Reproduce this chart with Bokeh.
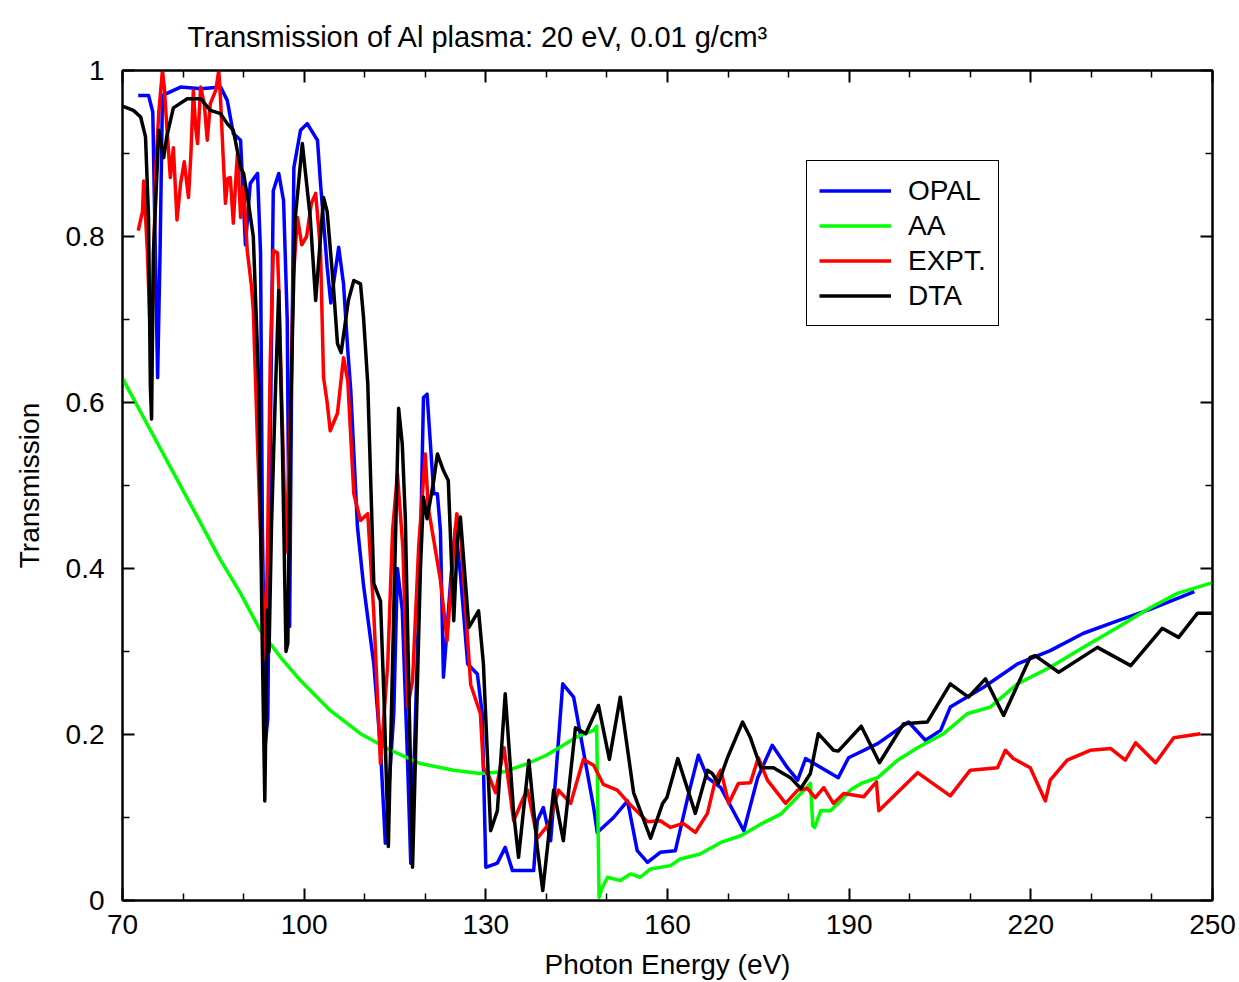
from bokeh.plotting import figure
from bokeh.models import (Range1d, LinearAxis, FixedTicker, Legend, LegendItem,
                          Title, CustomJSTickFormatter)
from bokeh.embed import file_html
from bokeh.resources import INLINE

# ---------------- data ----------------
title_text = "Transmission of Al plasma: 20 eV, 0.01 g/cm\u00b3"
x_ticks = [70, 100, 130, 160, 190, 220, 250]
x_minor = [80, 90, 110, 120, 140, 150, 170, 180, 200, 210, 230, 240]
y_ticks = [0, 0.2, 0.4, 0.6, 0.8, 1]
y_minor = [0.1, 0.3, 0.5, 0.7, 0.9]
y_tick_labels = {0: "0", 0.2: "0.2", 0.4: "0.4", 0.6: "0.6", 0.8: "0.8", 1: "1"}

opal_e = [72.6, 74.3, 75.0, 75.5, 75.8, 76.2, 76.6, 79.6, 83, 86.2, 87.3, 88.3, 89.5, 90.3, 91.1,
          92.3, 92.8, 93.1, 93.6, 94.0, 94.4, 94.9, 95.8, 96.6, 97.2, 97.6, 97.9, 98.3, 99.4,
          100.5, 102.2, 102.7, 103.8, 104.4, 105.7, 106.5, 107.2, 107.7, 108.8, 109.8, 111.5,
          112.6, 113.4, 114.8, 115.4, 116.2, 117, 117.6, 118.3, 119.2, 119.7, 120.3, 121.4, 122,
          122.5, 123, 124.2, 125, 125.8, 127, 128.6, 129.4, 130, 131.9, 133.2, 134.4, 137.9,
          138.5, 139.5, 140.7, 141.5, 142.7, 144.5, 147.8, 148.4, 151.1, 153.4, 155, 156.7,
          158.8, 161.3, 163.5, 165.1, 166.6, 168.8, 172.6, 174.9, 177.3, 179.8, 181.5, 182.8,
          188.2, 189.9, 194.7, 199.8, 202.6, 205.1, 206.7, 212.2, 217.8, 223.2, 228.7, 234.3,
          239.8, 247]
opal_t = [0.97, 0.97, 0.95, 0.75, 0.63, 0.78, 0.97, 0.98, 0.978, 0.98, 0.964, 0.924, 0.916, 0.79,
          0.864, 0.876, 0.78, 0.45, 0.19, 0.22, 0.55, 0.855, 0.876, 0.843, 0.70, 0.33, 0.6, 0.883,
          0.928, 0.936, 0.916, 0.864, 0.763, 0.72, 0.787, 0.743, 0.663, 0.614, 0.45, 0.38, 0.285,
          0.184, 0.069, 0.225, 0.4, 0.35, 0.184, 0.045, 0.2, 0.425, 0.606, 0.61, 0.49, 0.49,
          0.446, 0.269, 0.386, 0.45, 0.393, 0.285, 0.273, 0.225, 0.04, 0.045, 0.064, 0.036, 0.036,
          0.096, 0.112, 0.072, 0.145, 0.261, 0.245, 0.112, 0.082, 0.1, 0.12, 0.06, 0.046, 0.058,
          0.06, 0.129, 0.175, 0.148, 0.136, 0.084, 0.148, 0.187, 0.16, 0.145, 0.171, 0.148, 0.172,
          0.189, 0.215, 0.193, 0.205, 0.233, 0.257, 0.285, 0.301, 0.322, 0.337, 0.351, 0.372]

aa_e = [70, 74, 78, 82, 86.2, 89.5, 92.8, 96.1, 99.4, 104.3, 109.3, 114.3, 119.2, 124.7, 129,
        133, 136.9, 140, 142.3, 145, 147.8, 148.3, 148.7, 149.2, 150.1, 152.2, 153.9, 155.5,
        157.2, 160.5, 162.1, 165.4, 168.8, 172.1, 175.4, 178.7, 182, 183.6, 184.0, 184.3, 185.3,
        186.9, 188.6, 190.2, 192, 194.7, 198, 201.5, 205.6, 209.5, 213.3, 217.8, 223.2, 228.7,
        234.3, 239.8, 244.2, 250]
aa_t = [0.629, 0.575, 0.521, 0.467, 0.41, 0.37, 0.325, 0.293, 0.265, 0.229, 0.201, 0.181, 0.165,
        0.157, 0.153, 0.155, 0.165, 0.175, 0.185, 0.197, 0.205, 0.21, 0.004, 0.015, 0.028,
        0.024, 0.032, 0.028, 0.038, 0.042, 0.05, 0.056, 0.07, 0.078, 0.092, 0.104, 0.129, 0.141,
        0.09, 0.088, 0.108, 0.108, 0.12, 0.133, 0.141, 0.148, 0.169, 0.185, 0.201, 0.225, 0.233,
        0.261, 0.281, 0.305, 0.329, 0.353, 0.37, 0.383]

expt_e = [72.6, 73.3, 73.5, 74.1, 74.6, 75.0, 75.5, 76.0, 76.6, 76.9, 77.4, 77.9, 78.4, 79.0,
          79.6, 80.2, 80.9, 81.3, 81.7, 82.1, 82.4, 82.9, 83.5, 84, 84.5, 85.4, 85.9, 86.2, 86.6,
          87, 87.4, 87.8, 88.3, 88.8, 89, 89.5, 90, 90.6, 91.3, 91.6, 92.3, 93.0, 93.6, 94.0,
          94.4, 94.9, 95.6, 95.8, 96.3, 97.0, 97.6, 98.2, 98.9, 99.6, 100.4, 101.2, 101.9, 102.7,
          103.2, 103.8, 104.3, 105.5, 106.5, 107.2, 108.2, 109.3, 110.5, 111.5, 112.6, 113.8,
          114.6, 115.4, 116.3, 117.1, 117.9, 118.9, 120, 120.5, 121.5, 122.5, 123.6, 124.7,
          125.2, 125.8, 127.5, 129.1, 129.6, 130.5, 131.6, 133, 134.6, 136.2, 136.9, 138.5,
          140.5, 142, 144, 146.1, 147.8, 149.4, 151.7, 153.9, 156.7, 158.8, 160.5, 162.6, 164.6,
          166.6, 167.9, 168.8, 170.1, 171.7, 173.7, 175, 176.5, 179.5, 181.5, 183.1, 184.4,
          185.8, 187.4, 189.1, 192.4, 194.5, 194.9, 201.3, 206.7, 210, 214.5, 215.8, 217.1,
          219.9, 222.4, 223.2, 226, 229.8, 233.2, 235.6, 237.3, 240.6, 243.6, 248]
expt_t = [0.807, 0.83, 0.867, 0.783, 0.68, 0.72, 0.884, 0.95, 1.0, 0.98, 0.924, 0.871, 0.907,
          0.82, 0.864, 0.89, 0.847, 0.9, 0.976, 0.93, 0.912, 0.98, 0.96, 0.916, 0.96, 0.976, 1.0,
          0.964, 0.9, 0.84, 0.87, 0.871, 0.816, 0.88, 0.9, 0.823, 0.86, 0.783, 0.74, 0.711, 0.55,
          0.4, 0.29, 0.45, 0.65, 0.783, 0.78, 0.74, 0.6, 0.42, 0.55, 0.75, 0.823, 0.79, 0.8, 0.84,
          0.852, 0.783, 0.63, 0.6, 0.566, 0.587, 0.654, 0.626, 0.49, 0.458, 0.466, 0.346, 0.165,
          0.285, 0.446, 0.514, 0.425, 0.233, 0.265, 0.425, 0.538, 0.473, 0.43, 0.386, 0.313,
          0.425, 0.466, 0.446, 0.26, 0.225, 0.16, 0.15, 0.13, 0.184, 0.096, 0.124, 0.133, 0.075,
          0.093, 0.133, 0.117, 0.17, 0.163, 0.14, 0.133, 0.115, 0.095, 0.096, 0.088, 0.093,
          0.082, 0.105, 0.145, 0.157, 0.117, 0.141, 0.142, 0.172, 0.145, 0.117, 0.133, 0.135,
          0.124, 0.136, 0.117, 0.129, 0.125, 0.143, 0.108, 0.154, 0.126, 0.157, 0.16, 0.181,
          0.171, 0.16, 0.12, 0.145, 0.169, 0.181, 0.183, 0.169, 0.19, 0.166, 0.196, 0.201]

dta_e = [70, 71.8, 73, 73.8, 74.3, 74.6, 74.8, 75.1, 76, 76.8, 77.3, 78.4, 80.7, 82.9, 84.5,
         86.2, 87.3, 88.3, 89.5, 90, 90.8, 91.6, 92.5, 93.1, 93.5, 93.9, 94.2, 94.6, 95.2, 95.8,
         96.4, 97.0, 97.3, 97.8, 98.5, 99.7, 101, 101.9, 103.2, 103.8, 104.8, 105.5, 106.1,
         107.3, 108.2, 109.3, 109.8, 110.5, 111.5, 112.6, 113.2, 113.9, 114.8, 115.6, 116.2,
         116.7, 117.9, 119.2, 119.7, 120.3, 121.4, 122, 123, 123.8, 124.7, 125.3, 125.8, 126.6,
         127.2, 128.8, 129.6, 130.8, 131.9, 133.2, 134.6, 135.4, 137.1, 138.5, 139.4, 141.2,
         142.8, 144.8, 146.5, 148.6, 150.4, 152.2, 154.4, 157.2, 159.2, 159.9, 161.7, 164.6,
         166.6, 167.4, 168.4, 169.9, 172.4, 173.7, 175.4, 177.5, 180.3, 182, 183.6, 184.9,
         187.4, 188.2, 192, 195, 199, 202.9, 206.7, 209.7, 212.5, 215.5, 219.9, 220.7, 224.6,
         231, 236.5, 241.7, 244.4, 247.5, 250]
dta_t = [0.957, 0.952, 0.944, 0.92, 0.823, 0.62, 0.58, 0.78, 0.928, 0.895, 0.92, 0.955, 0.966,
         0.966, 0.952, 0.948, 0.936, 0.928, 0.883, 0.876, 0.84, 0.8, 0.62, 0.3, 0.12, 0.35, 0.3,
         0.45, 0.6, 0.735, 0.55, 0.3, 0.31, 0.6, 0.82, 0.912, 0.823, 0.723, 0.847, 0.83, 0.743,
         0.671, 0.66, 0.723, 0.747, 0.743, 0.703, 0.623, 0.382, 0.361, 0.24, 0.065, 0.35, 0.593,
         0.55, 0.462, 0.04, 0.4, 0.486, 0.46, 0.506, 0.538, 0.518, 0.506, 0.337, 0.434, 0.462,
         0.386, 0.329, 0.349, 0.285, 0.084, 0.108, 0.249, 0.105, 0.052, 0.169, 0.064, 0.012,
         0.133, 0.072, 0.208, 0.201, 0.235, 0.17, 0.245, 0.13, 0.075, 0.117, 0.124, 0.171, 0.105,
         0.157, 0.153, 0.141, 0.172, 0.215, 0.196, 0.16, 0.16, 0.148, 0.135, 0.153, 0.201, 0.181,
         0.18, 0.21, 0.166, 0.213, 0.215, 0.261, 0.245, 0.267, 0.223, 0.293, 0.295, 0.275, 0.305,
         0.283, 0.328, 0.317, 0.346, 0.346]

series_names = ["OPAL", "AA", "EXPT.", "DTA"]
series_colors = ["#0000ff", "#00ff00", "#ff0000", "#000000"]

FONT = "Liberation Sans"

# ---------------- figure ----------------
p = figure(width=1239, height=982, x_range=Range1d(70, 250), y_range=Range1d(0, 1),
           output_backend="svg", toolbar_location=None,
           min_border_left=122, min_border_right=27, min_border_top=70, min_border_bottom=82,
           background_fill_color="white", border_fill_color="white")

p.xgrid.visible = False
p.ygrid.visible = False
p.outline_line_color = "black"
p.outline_line_width = 2


def style_axis(ax, ticks, minor):
    ax.ticker = FixedTicker(ticks=ticks, minor_ticks=minor)
    ax.axis_line_color = "black"
    ax.axis_line_width = 2
    ax.major_tick_in = 12
    ax.major_tick_out = 0
    ax.minor_tick_in = 7
    ax.minor_tick_out = 0
    ax.major_tick_line_width = 2
    ax.minor_tick_line_width = 1.5
    ax.major_label_text_font = FONT
    ax.major_label_text_font_size = "28px"
    ax.major_label_text_color = "black"
    ax.axis_label_text_font = FONT
    ax.axis_label_text_font_size = "28px"
    ax.axis_label_text_font_style = "normal"
    ax.axis_label_text_color = "black"


style_axis(p.xaxis[0], x_ticks, x_minor)
style_axis(p.yaxis[0], y_ticks, y_minor)
p.xaxis[0].axis_label = "Photon Energy (eV)"
p.yaxis[0].axis_label = "Transmission"
p.xaxis[0].major_label_standoff = 14
p.xaxis[0].axis_label_standoff = 12
p.yaxis[0].major_label_standoff = 18
p.yaxis[0].axis_label_standoff = 18
p.yaxis[0].major_label_overrides = y_tick_labels

# tick-only mirror axes on top and right (no labels, minimal size)
top = LinearAxis()
style_axis(top, x_ticks, x_minor)
top.formatter = CustomJSTickFormatter(code="return '';")
top.major_label_standoff = 0
top.major_label_text_font_size = "1px"
p.add_layout(top, "above")
right = LinearAxis()
style_axis(right, y_ticks, y_minor)
right.formatter = CustomJSTickFormatter(code="return '';")
right.major_label_standoff = 0
right.major_label_text_font_size = "1px"
p.add_layout(right, "right")

p.add_layout(Title(text=title_text, align="left", offset=65, vertical_align="top",
                   text_font=FONT, text_font_size="29px", text_font_style="normal",
                   text_color="black", standoff=32), "above")

xs = [opal_e, aa_e, expt_e, dta_e]
ys = [opal_t, aa_t, expt_t, dta_t]
renderers = []
for e, t, c in zip(xs, ys, series_colors):
    renderers.append(p.line(e, t, line_color=c, line_width=3.5, line_join="round"))

legend = Legend(items=[LegendItem(label=n, renderers=[r]) for n, r in zip(series_names, renderers)],
                location=(684, 574), orientation="vertical",
                label_text_font=FONT, label_text_font_size="28px", label_text_color="black",
                glyph_width=72, glyph_height=35, label_height=35, label_standoff=17,
                spacing=0, padding=12, margin=0,
                border_line_color="black", border_line_width=1.5, border_line_alpha=1,
                background_fill_color="white", background_fill_alpha=1)
p.add_layout(legend)

open("out.html", "w").write(file_html(p, INLINE))
